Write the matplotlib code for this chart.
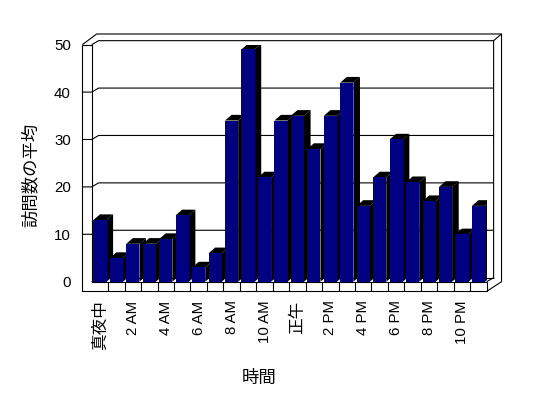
import matplotlib
matplotlib.use("Agg")
import matplotlib.pyplot as plt
from matplotlib.patches import Polygon

plt.rcParams['font.family'] = ['Liberation Sans', 'Noto Sans CJK JP']

# 時間帯ごとの訪問数の平均
hours = list(range(24))
visits = [13, 5, 8, 8, 9, 14, 3, 6, 34, 49, 22, 34, 35, 28, 35, 42, 16, 22, 30, 21, 17, 20, 10, 16]
tick_labels = ['真夜中', '2 AM', '4 AM', '6 AM', '8 AM', '10 AM',
               '正午', '2 PM', '4 PM', '6 PM', '8 PM', '10 PM']
y_ticks = [0, 10, 20, 30, 40, 50]

W, H = 548, 398
fig = plt.figure(figsize=(W / 100, H / 100), dpi=100)
fig.patch.set_facecolor('white')

# front plane of the 3D box in pixels
x0, x1 = 91.7, 486.7
y0, y1 = 281.7, 44.7
ax = fig.add_axes([x0 / W, 1 - y0 / H, (x1 - x0) / W, (y0 - y1) / H])
ax.set_xlim(0, 24)
ax.set_ylim(0, 50)
for s in ax.spines.values():
    s.set_visible(False)
ax.set_facecolor('none')

# depth offsets (data units)
dx, dy = 0.42, 0.85      # walls / gridlines
bdx, bdy = 0.40, 1.2     # bars
tw, fh = 0.57, 1.9       # wall / floor slab thickness
lw = 0.8
kw = dict(color='black', lw=lw, clip_on=False, solid_capstyle='butt')

# left wall front face + floor front face
ax.plot([-tw, -tw, 24, 24], [50, -fh, -fh, 0], zorder=1, **kw)
ax.plot([-tw, 0, 0, 24], [50, 50, 0, 0], zorder=1, **kw)
for t in y_ticks[1:-1]:
    ax.plot([-tw, 0, dx, 24 + dx], [t, t, t + dy, t + dy], zorder=1, **kw)
ax.plot([0, dx], [0, dy], zorder=1, **kw)
ax.plot([dx, 24 + dx], [dy, dy], zorder=1, **kw)
# top of the box
ax.plot([0, dx, 24 + dx, 24 + dx, 24], [50, 50 + dy, 50 + dy, dy, 0], zorder=1, **kw)
top_out = 52.26
right_out = 24.9
ax.plot([-tw, 0.30, right_out, right_out, 24.06], [50, top_out, top_out, 0, -fh], zorder=1, **kw)
ax.plot([24 + dx, right_out], [50 + dy, top_out], zorder=1, **kw)
# category ticks on the floor front face
for h in hours[1:]:
    ax.plot([h, h], [-fh, 0], zorder=1, **kw)

# bars
for i, v in zip(hours, visits):
    z = 3 + i * 0.01
    l, r = i + 0.1, i + 0.9
    side = Polygon([(r, 0), (r, v), (r + bdx, v + bdy), (r + bdx, bdy)],
                   closed=True, facecolor='black', edgecolor='none', zorder=z)
    top = Polygon([(l, v), (r, v), (r + bdx, v + bdy), (l + bdx, v + bdy)],
                  closed=True, facecolor='black', edgecolor='none', zorder=z)
    ax.add_patch(side)
    ax.add_patch(top)
    ax.bar(i + 0.5, v, width=0.8, color='#000080', edgecolor='none', zorder=z + 0.001)

ax.set_yticks(y_ticks)
ax.set_yticklabels([str(t) for t in y_ticks], fontsize=10.8)
ax.set_xticks([h + 0.5 for h in hours[::2]])
ax.set_xticklabels(tick_labels, rotation=90, fontsize=10.8, va='top')
ax.tick_params(axis='y', length=0, pad=15)
ax.tick_params(axis='x', length=0, pad=13.5)
for lab in ax.get_xticklabels():
    if not lab.get_text().isascii():
        lab.set_fontsize(12)

fig.text(30 / W, 1 - 175 / H, '訪問数の平均', rotation=90, ha='center', va='center', fontsize=12.5)
fig.text(259 / W, 1 - 378 / H, '時間', ha='center', va='center', fontsize=12.5)

fig.savefig('out.png', dpi=100)
